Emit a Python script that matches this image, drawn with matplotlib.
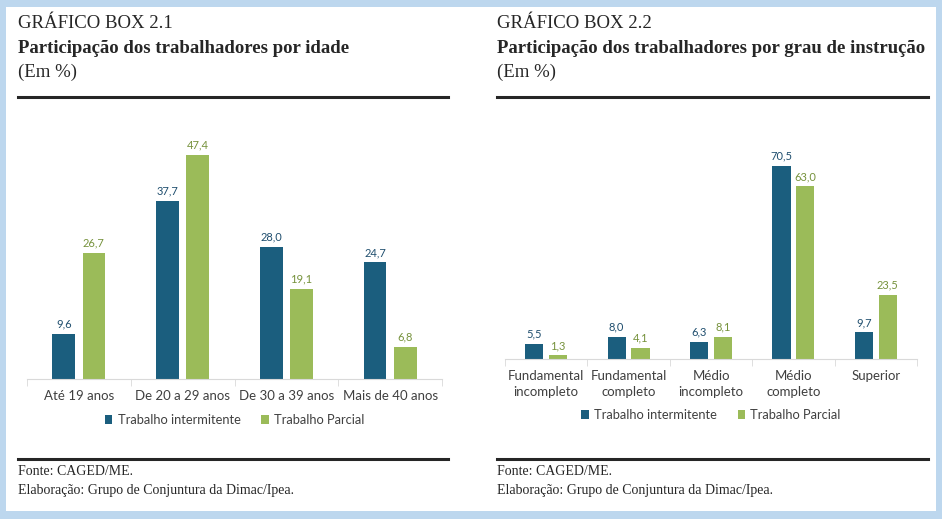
import matplotlib.pyplot as plt
from matplotlib.patches import Rectangle
from matplotlib.lines import Line2D
import numpy as np

# data
idade_cats = ['Até 19 anos', 'De 20 a 29 anos', 'De 30 a 39 anos', 'Mais de 40 anos']
idade_interm = [9.6, 37.7, 28.0, 24.7]
idade_parcial = [26.7, 47.4, 19.1, 6.8]

instr_cats = ['Fundamental\nincompleto', 'Fundamental\ncompleto', 'Médio\nincompleto',
              'Médio\ncompleto', 'Superior']
instr_interm = [5.5, 8.0, 6.3, 70.5, 9.7]
instr_parcial = [1.3, 4.1, 8.1, 63.0, 23.5]

series_names = ['Trabalho intermitente', 'Trabalho Parcial']

BLUE = '#1B5E7E'
GREEN = '#9BBB59'
BLUE_TXT = '#1F4E6E'
GREEN_TXT = '#76923C'
SERIF = 'Liberation Serif'
SANS = 'Lato'

W, H = 942, 519
fig = plt.figure(figsize=(W / 100, H / 100), dpi=100)
fig.patch.set_facecolor('#BDD7EE')
fig.patches.append(Rectangle((6 / W, 1 - 511 / H), 930 / W, 504 / H,
                             transform=fig.transFigure, facecolor='white',
                             edgecolor='none', zorder=-10))


def px(x, y):
    return x / W, 1 - y / H


def header(x0, x1, box, title):
    fig.text(*px(x0, 28), box, family=SERIF, fontsize=13.5, color='#262626')
    fig.text(*px(x0, 53), title, family=SERIF, fontsize=13.5, weight='bold', color='#262626')
    fig.text(*px(x0, 77), '(Em %)', family=SERIF, fontsize=13.5, color='#262626')
    for y in (97, 459):
        fig.add_artist(Line2D([x0 / W, x1 / W], [1 - y / H] * 2, color='#262626', lw=2.2))
    fig.text(*px(x0, 475), 'Fonte: CAGED/ME.', family=SERIF, fontsize=10, color='#262626')
    fig.text(*px(x0, 494), 'Elaboração: Grupo de Conjuntura da Dimac/Ipea.',
             family=SERIF, fontsize=10, color='#262626')


def bars(x0, x1, y_base, ymax, cats, interm, parcial, legend_y):
    y_top = 130
    ax = fig.add_axes([x0 / W, 1 - y_base / H, (x1 - x0) / W, (y_base - y_top) / H])
    ax.set_zorder(5)
    x = np.arange(len(cats))
    w = 0.22
    b1 = ax.bar(x - 0.145, interm, w, color=BLUE, label=series_names[0])
    b2 = ax.bar(x + 0.145, parcial, w, color=GREEN, label=series_names[1])
    ax.bar_label(b1, labels=[f'{v:.1f}'.replace('.', ',') for v in interm],
                 padding=3, fontsize=8, color=BLUE_TXT, family=SANS)
    ax.bar_label(b2, labels=[f'{v:.1f}'.replace('.', ',') for v in parcial],
                 padding=3, fontsize=8, color=GREEN_TXT, family=SANS)
    ax.set_xlim(-0.5, len(cats) - 0.5)
    ax.set_ylim(0, ymax)
    ax.set_xticks(x)
    ax.set_xticklabels(cats, fontsize=9.5, color='#404040', family=SANS,
                       linespacing=1.35, multialignment='center')
    ax.set_xticks(np.arange(len(cats) + 1) - 0.5, minor=True)
    ax.tick_params(axis='x', which='major', length=0, pad=8)
    ax.tick_params(axis='x', which='minor', length=5, color='#D9D9D9')
    ax.set_yticks([])
    for s in ('top', 'right', 'left'):
        ax.spines[s].set_visible(False)
    ax.spines['bottom'].set_color('#D9D9D9')
    ax.patch.set_alpha(0)
    leg = ax.legend(loc='center', bbox_to_anchor=(0.5, 1 - (legend_y - y_top) / (y_base - y_top)),
                    ncol=2, frameon=False, handlelength=0.6, handleheight=0.6,
                    handletextpad=0.4, columnspacing=1.6, prop={'family': SANS, 'size': 9.3})
    for t in leg.get_texts():
        t.set_color('#404040')
    return ax


header(18, 448, 'GRÁFICO BOX 2.1', 'Participação dos trabalhadores por idade')
header(497, 928, 'GRÁFICO BOX 2.2', 'Participação dos trabalhadores por grau de instrução')

bars(27, 442, 379, 249 / 4.73, idade_cats, idade_interm, idade_parcial, 420)
bars(505, 917, 359, 229 / 2.74, instr_cats, instr_interm, instr_parcial, 415)

fig.savefig('out.png', dpi=100)
